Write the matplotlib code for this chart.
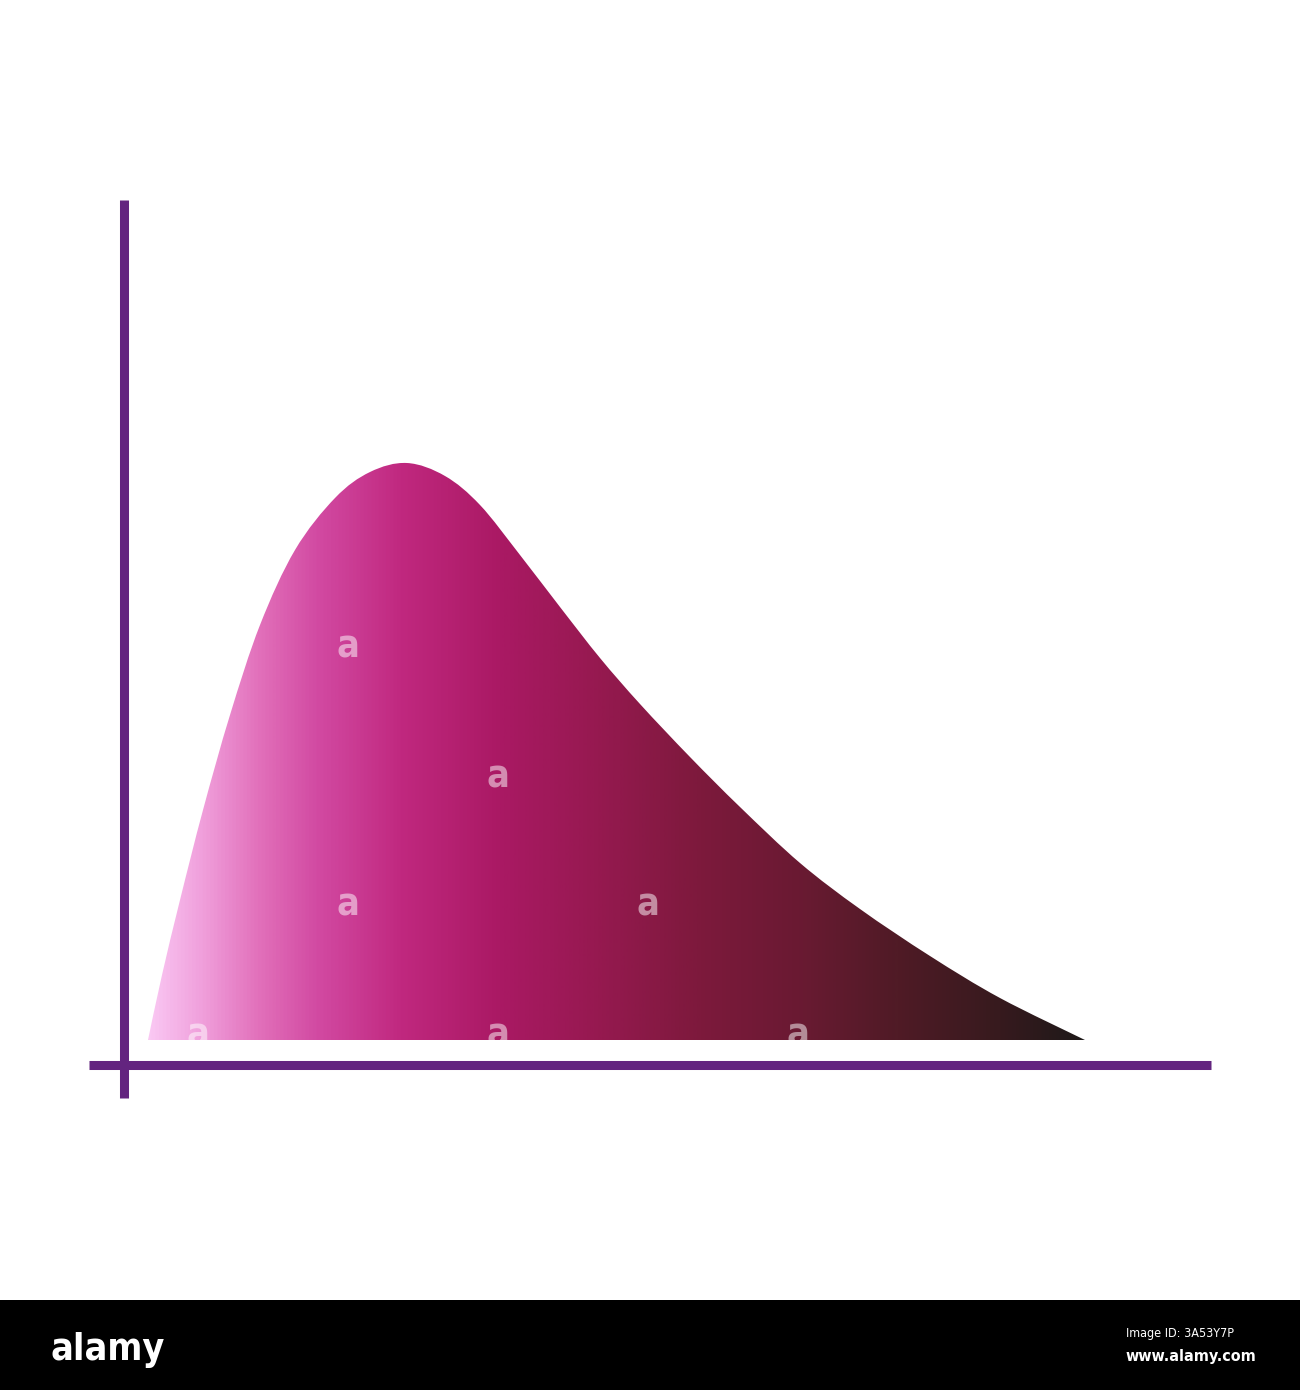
import numpy as np
import matplotlib
matplotlib.use("Agg")
import matplotlib.pyplot as plt
from matplotlib.colors import LinearSegmentedColormap
from matplotlib.patches import PathPatch, Rectangle
from matplotlib.path import Path

# ---------------- data (chart units) ----------------
curve_x = [2.4, 3.8, 5.6, 7.9, 10.6, 13.6, 17.1, 21.1, 24.6, 28.3,
           32.1, 35.6, 39.6, 43.6, 47.6, 51.6, 56.6, 61.6, 67.6, 73.6,
           80.6, 87.6, 96.1]
curve_y = [2.5, 9.0, 16.5, 25.5, 35.0, 44.0, 51.5, 56.7, 59.3, 60.2,
           58.9, 56.0, 51.0, 45.8, 40.7, 36.1, 30.8, 25.8, 20.2, 15.6,
           10.9, 6.7, 2.5]
baseline = 2.5

x_axis_range = [-3.5, 108.7]
y_axis_range = [-3.3, 86.5]

# watermark glyph positions
wm_x = [22.4, 37.4, 22.4, 52.4, 7.4, 37.4, 67.4]
wm_y = [41.7, 28.8, 15.9, 15.9, 3.0, 3.0, 3.0]

# ---------------- style ----------------
axis_color = "#63247f"
grad_pos = [0.0, 0.055, 0.12, 0.18, 0.27, 0.375, 0.48, 0.59, 0.70, 0.80, 0.91, 1.0]
grad_col = ["#fac8f3", "#f0a0dc", "#e16eb9", "#d24aa2", "#c0287f", "#aa1964",
            "#961950", "#7d193c", "#691a32", "#501b26", "#371a1e", "#1e1919"]
cmap = LinearSegmentedColormap.from_list("pinkgrad", list(zip(grad_pos, grad_col)))
narrow = dict(family=["DejaVu Sans"], fontstretch="condensed")

fig = plt.figure(figsize=(13, 13.9), dpi=100)
ax = fig.add_axes([0, 0, 1, 1])
ax.set_xlim(-12.4, 117.6)
ax.set_ylim(-32.5, 106.5)
ax.axis("off")

# smooth outline through the read points (Catmull-Rom -> cubic Bezier)
pts = np.column_stack([curve_x, curve_y])
ext = np.vstack([pts[0], pts, pts[-1]])
verts = [tuple(pts[0])]
codes = [Path.MOVETO]
for i in range(1, len(ext) - 2):
    p0, p1, p2, p3 = ext[i - 1], ext[i], ext[i + 1], ext[i + 2]
    c1 = p1 + (p2 - p0) / 6.0
    c2 = p2 - (p3 - p1) / 6.0
    verts += [tuple(c1), tuple(c2), tuple(p2)]
    codes += [Path.CURVE4] * 3
verts += [(curve_x[0], baseline), (curve_x[0], baseline)]
codes += [Path.LINETO, Path.CLOSEPOLY]
shape = PathPatch(Path(verts, codes), facecolor="none", edgecolor="none",
                  transform=ax.transData)
ax.add_patch(shape)

grad = np.linspace(0, 1, 1024).reshape(1, -1)
im = ax.imshow(grad, cmap=cmap, aspect="auto", interpolation="bilinear",
               extent=[curve_x[0], curve_x[-1], baseline, max(curve_y) + 1],
               origin="lower", zorder=2)
im.set_clip_path(shape)

# watermark glyphs
for x, y in zip(wm_x, wm_y):
    t = ax.text(x, y, "a", color="white", alpha=0.5, fontsize=27, fontweight="bold",
                ha="center", va="center", zorder=3, **narrow)
    t.set_clip_path(shape)

# axes lines
ax.plot([0, 0], y_axis_range, color=axis_color, lw=6.5, solid_capstyle="butt", zorder=4)
ax.plot(x_axis_range, [0, 0], color=axis_color, lw=6.5, solid_capstyle="butt", zorder=4)

ax.set_xlim(-12.4, 117.6)
ax.set_ylim(-32.5, 106.5)

# bottom banner
fig.add_artist(Rectangle((0, 0), 1, 90 / 1390, transform=fig.transFigure,
                         facecolor="black", edgecolor="none", zorder=5))
fig.text(50 / 1300, 30 / 1390, "alamy", color="white", fontsize=27, fontweight="bold",
         ha="left", va="baseline", zorder=6, **narrow)
fig.text(1234 / 1300, 56 / 1390, "Image ID: 3A53Y7P", color="white", fontsize=9,
         ha="right", va="center", zorder=6, **narrow)
fig.text(1256 / 1300, 33 / 1390, "www.alamy.com", color="white", fontsize=11.5,
         fontweight="bold", ha="right", va="center", zorder=6, **narrow)

fig.savefig("out.png", dpi=100, facecolor="white")
